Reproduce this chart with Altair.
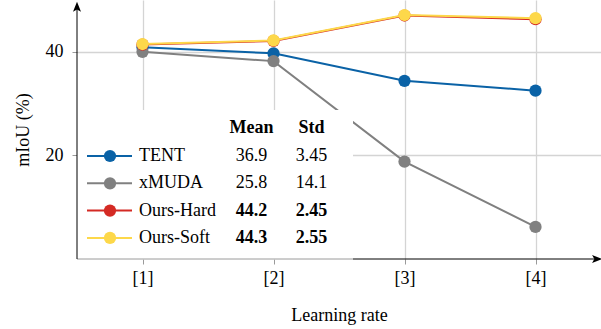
import json
import altair as alt
import pandas as pd

# Learning-rate settings and their tick labels
lr_ticks = [1, 2, 3, 4]
tick_labels = ["[1]", "[2]", "[3]", "[4]"]

# mIoU (%) per method
series = ["TENT", "xMUDA", "Ours-Hard", "Ours-Soft"]
tent = [40.9, 39.7, 34.4, 32.5]
xmuda = [40.0, 38.2, 18.8, 6.2]
ours_hard = [41.4, 42.1, 47.0, 46.3]
ours_soft = [41.5, 42.2, 47.1, 46.5]
values = [tent, xmuda, ours_hard, ours_soft]

# summary table shown in the legend
mean_txt = ["36.9", "25.8", "44.2", "44.3"]
std_txt = ["3.45", "14.1", "2.45", "2.55"]
bold_row = [False, False, True, True]

colors = ["#0a62a6", "#808080", "#d42a24", "#fdd84a"]

FONT = "Liberation Serif"
FS = 18
X_DOM = [0.5, 4.5]
Y_DOM = [0, 50]
W, H = 524, 259

label_expr = json.dumps(tick_labels) + "[datum.value - 1]"


def xenc(field="x"):
    return alt.X(
        f"{field}:Q",
        scale=alt.Scale(domain=X_DOM, nice=False, zero=False),
        axis=alt.Axis(
            values=lr_ticks, labelExpr=label_expr, title="Learning rate",
            grid=True, domain=False, tickSize=5, labelPadding=5,
            titleY=56, titleBaseline="middle",
        ),
    )


def yenc(field="y"):
    return alt.Y(
        f"{field}:Q",
        scale=alt.Scale(domain=Y_DOM, nice=False, zero=False),
        axis=alt.Axis(
            values=[20, 40], title="mIoU (%)", grid=True, domain=False,
            tickSize=5, labelPadding=9, titleX=-54, titleY=H / 2,
            titleBaseline="middle", titleAlign="center",
        ),
    )


layers = []

# one line + markers per method, drawn in legend order
for name, vals, col in zip(series, values, colors):
    df = pd.DataFrame({"x": lr_ticks, "y": vals})
    base = alt.Chart(df)
    layers.append(base.mark_line(color=col, strokeWidth=2).encode(x=xenc(), y=yenc()))
    layers.append(
        base.mark_circle(color=col, size=150, opacity=1).encode(x=xenc(), y=yenc())
    )

one = pd.DataFrame({"k": [0]})

# white legend panel
layers.append(
    alt.Chart(one).mark_rect(color="white").encode(
        x=alt.value(0), x2=alt.value(276), y=alt.value(110), y2=alt.value(259.5)
    )
)

# column headers
for txt, cx in [("Mean", 174.5), ("Std", 234.5)]:
    layers.append(
        alt.Chart(one).mark_text(
            font=FONT, fontSize=FS, fontWeight="bold", align="center", baseline="middle"
        ).encode(x=alt.value(cx), y=alt.value(128), text=alt.value(txt))
    )

# legend rows: sample line, marker, name, mean, std
for i, (name, col) in enumerate(zip(series, colors)):
    ry = 156 + 27.3 * i
    row = pd.DataFrame({"name": [name], "mean": [mean_txt[i]], "std": [std_txt[i]]})
    c = alt.Chart(row)
    layers.append(
        c.mark_rule(color=col, strokeWidth=2).encode(
            x=alt.value(10), x2=alt.value(55), y=alt.value(ry)
        )
    )
    layers.append(
        c.mark_circle(color=col, size=150, opacity=1).encode(
            x=alt.value(33), y=alt.value(ry)
        )
    )
    layers.append(
        c.mark_text(font=FONT, fontSize=FS, align="left", baseline="middle").encode(
            x=alt.value(62), y=alt.value(ry), text="name:N"
        )
    )
    w = "bold" if bold_row[i] else "normal"
    layers.append(
        c.mark_text(font=FONT, fontSize=FS, fontWeight=w, align="center", baseline="middle").encode(
            x=alt.value(174.5), y=alt.value(ry), text="mean:N"
        )
    )
    layers.append(
        c.mark_text(font=FONT, fontSize=FS, fontWeight=w, align="center", baseline="middle").encode(
            x=alt.value(234.5), y=alt.value(ry), text="std:N"
        )
    )

# axis lines with arrow heads
box_right = X_DOM[0] + 276 / (W / (X_DOM[1] - X_DOM[0]))
x_end = 4.45
y_end = 48.5
axes_df = pd.DataFrame(
    {
        "x": [X_DOM[0], box_right, X_DOM[0]],
        "x2": [box_right, x_end, X_DOM[0]],
        "y": [0, 0, 0],
        "y2": [0, 0, y_end],
        "c": ["#9a9a9a", "black", "black"],
    }
)
layers.append(
    alt.Chart(axes_df).mark_rule(strokeWidth=1).encode(
        x=xenc(), x2="x2:Q", y=yenc(), y2="y2:Q",
        color=alt.Color("c:N", scale=None),
    )
)

arrow_right = "M-1,-0.8 L1,0 L-1,0.8 L-0.55,0 Z"
arrow_up = "M-0.8,1 L0,-1 L0.8,1 L0,0.55 Z"
layers.append(
    alt.Chart(pd.DataFrame({"x": [x_end + 0.02], "y": [0]})).mark_point(
        shape=arrow_right, size=100, filled=True, color="black", opacity=1
    ).encode(x=xenc(), y=yenc())
)
layers.append(
    alt.Chart(pd.DataFrame({"x": [X_DOM[0]], "y": [y_end + 0.2]})).mark_point(
        shape=arrow_up, size=100, filled=True, color="black", opacity=1
    ).encode(x=xenc(), y=yenc())
)

chart = (
    alt.layer(*layers)
    .properties(
        width=W, height=H, autosize="none",
        padding={"left": 77, "top": 0, "right": 0, "bottom": 70},
    )
    .configure_view(stroke=None)
    .configure_axis(
        labelFont=FONT, titleFont=FONT, labelFontSize=FS, titleFontSize=FS,
        titleFontWeight="normal", labelColor="black", titleColor="black",
        gridColor="#d4d4d4", gridWidth=1.3, tickColor="#9a9a9a", tickWidth=1,
    )
)

chart.save("out.html", embed_options={"renderer": "svg", "actions": False})
